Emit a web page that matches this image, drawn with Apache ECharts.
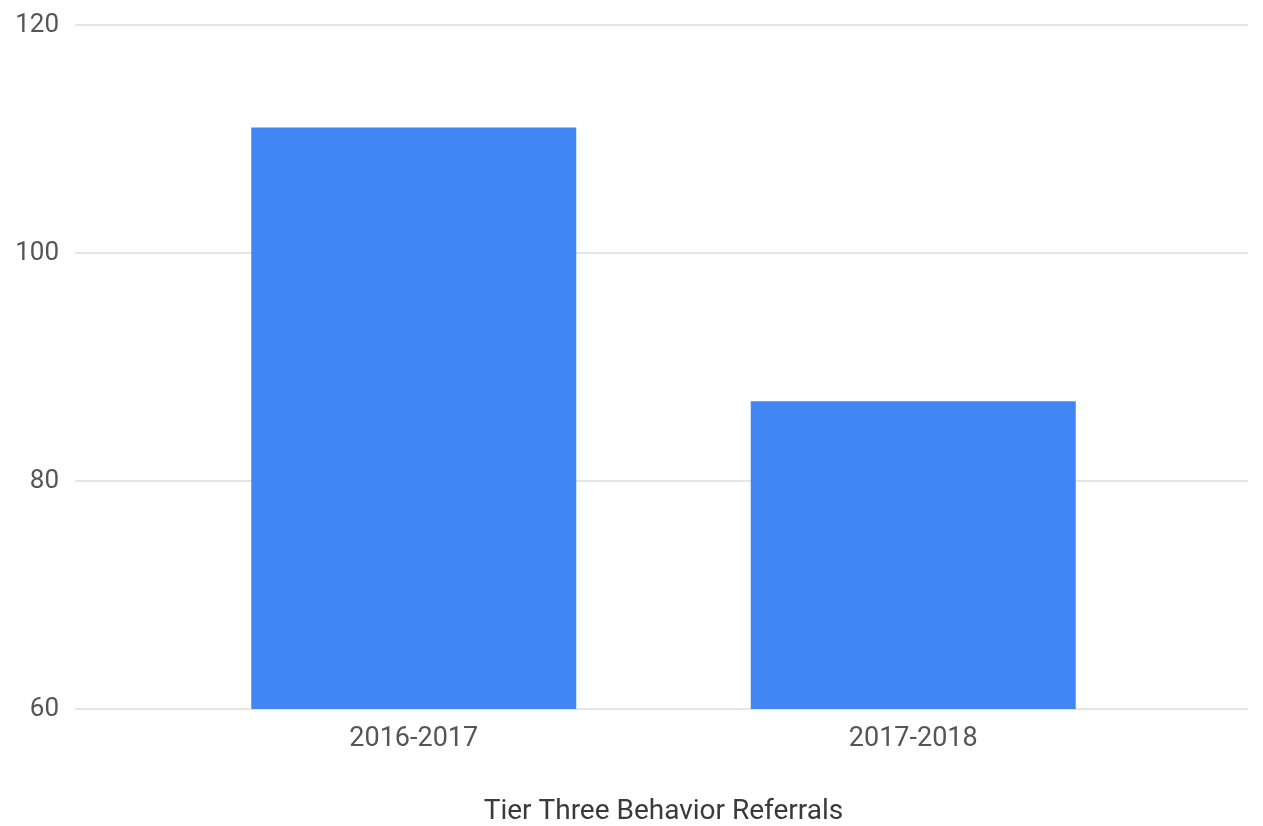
<!DOCTYPE html>
<html><head><meta charset="utf-8">
<script src="https://cdn.jsdelivr.net/npm/echarts@6/dist/echarts.min.js"></script>
<style>html,body{margin:0;padding:0;background:#fff}#c{width:1263px;height:826px}</style>
</head><body><div id="c"></div>
<script>
const categories = ['2016-2017', '2017-2018'];
const referrals = [111, 87];
const yTicks = { min: 60, max: 120, interval: 20 };
const axisTitle = 'Tier Three Behavior Referrals';

const chart = echarts.init(document.getElementById('c'));
chart.setOption({
  animation: false,
  grid: [
    { left: 75, right: 15, top: 25, bottom: 117, containLabel: false, outerBoundsMode: 'none' },
    { left: 164, right: 100, top: 25, bottom: 117, containLabel: false, outerBoundsMode: 'none' }
  ],
  xAxis: [
    { gridIndex: 0, type: 'category', data: categories, show: false },
    {
      gridIndex: 1, type: 'category', data: categories,
      axisLine: { show: false }, axisTick: { show: false },
      axisLabel: { color: '#555', fontSize: 27, fontFamily: 'Roboto', margin: 17 },
      name: axisTitle, nameLocation: 'middle', nameGap: 89,
      nameTextStyle: { color: '#3a3a3a', fontSize: 28, fontFamily: 'Roboto' }
    }
  ],
  yAxis: [
    {
      gridIndex: 0, type: 'value', min: yTicks.min, max: yTicks.max, interval: yTicks.interval,
      axisLine: { show: false }, axisTick: { show: false },
      axisLabel: { color: '#555', fontSize: 26, fontFamily: 'Roboto', margin: 16 },
      splitLine: { lineStyle: { color: '#dcdcdc', width: 1.5 } }
    },
    {
      gridIndex: 1, type: 'value', min: yTicks.min, max: yTicks.max, interval: yTicks.interval,
      show: false, splitLine: { show: false }
    }
  ],
  series: [{
    type: 'bar', xAxisIndex: 1, yAxisIndex: 1,
    data: referrals, barWidth: 325,
    itemStyle: { color: '#4285F4' }
  }]
});
</script></body></html>
